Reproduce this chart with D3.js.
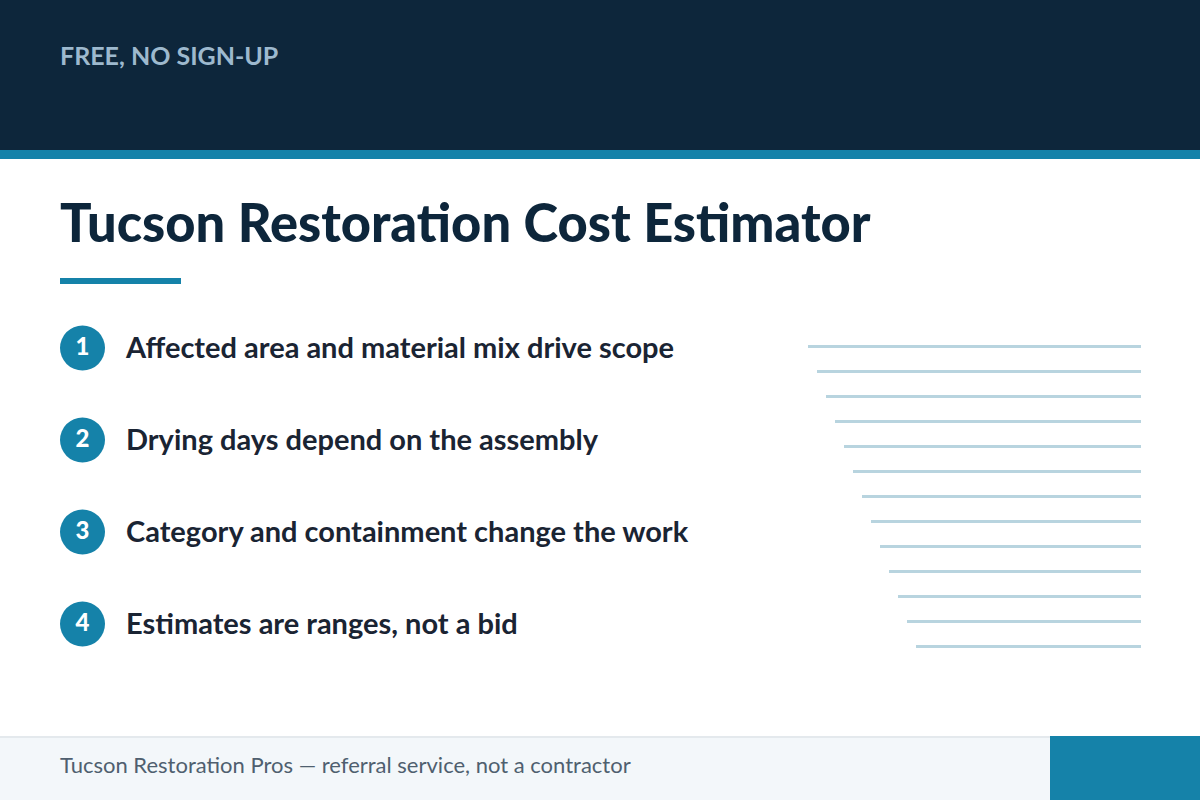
<!DOCTYPE html>
<html>
  <head>
    <meta charset="utf-8" />
    <title>Tucson Restoration Cost Estimator</title>
    <script src="https://d3js.org/d3.v7.min.js"></script>
    <style>
      body { margin: 0; background: #fff; }
      svg { display: block; }
      text { font-family: Lato, sans-serif; }
    </style>
  </head>
  <body>
    <svg id="card"></svg>

    <script>
      var eyebrow = "FREE, NO SIGN-UP";
      var title = "Tucson Restoration Cost Estimator";
      var footer = "Tucson Restoration Pros \u2014 referral service, not a contractor";

      var stepNumbers = ["1", "2", "3", "4"];
      var stepLabels = [
        "Affected area and material mix drive scope",
        "Drying days depend on the assembly",
        "Category and containment change the work",
        "Estimates are ranges, not a bid"
      ];

      // length of each decorative rule, top to bottom
      var ruleLengths = [333, 324, 315, 306, 297, 288, 279, 270, 261, 252, 243, 234, 225];

      var navy = "#0d263b";
      var teal = "#1582a9";
      var width = 1200;
      var height = 800;

      var svg = d3.select("#card")
        .attr("width", width)
        .attr("height", height);

      // header
      svg.append("rect").attr("width", width).attr("height", 150).attr("fill", navy);
      svg.append("rect").attr("y", 150).attr("width", width).attr("height", 9).attr("fill", teal);
      svg.append("text")
        .attr("x", 60).attr("y", 65)
        .attr("font-size", 25).attr("font-weight", 700)
        .attr("fill", "#9db9ce")
        .text(eyebrow);

      // title
      svg.append("text")
        .attr("x", 60).attr("y", 242)
        .attr("font-size", 52.4).attr("font-weight", 900)
        .attr("fill", navy)
        .text(title);
      svg.append("rect").attr("x", 60).attr("y", 278).attr("width", 121).attr("height", 6).attr("fill", teal);

      // numbered steps
      var stepY = d3.scalePoint().domain(stepNumbers).range([348, 624]);

      var steps = svg.selectAll(".step")
        .data(stepNumbers)
        .enter().append("g")
        .attr("class", "step")
        .attr("transform", function(d) { return "translate(0," + stepY(d) + ")"; });

      steps.append("circle")
        .attr("cx", 82.5).attr("r", 22.5)
        .attr("fill", teal);

      steps.append("text")
        .attr("x", 82.5).attr("y", 7)
        .attr("text-anchor", "middle")
        .attr("font-size", 24).attr("font-weight", 900)
        .attr("fill", "#fff")
        .text(function(d) { return d; });

      steps.append("text")
        .attr("x", 126).attr("y", 10)
        .attr("font-size", 29).attr("font-weight", 700)
        .attr("fill", "#1a2433")
        .text(function(d, i) { return stepLabels[i]; });

      // decorative rules
      var ruleY = d3.scalePoint()
        .domain(d3.range(ruleLengths.length))
        .range([346.5, 646.5]);
      var ruleX = d3.scaleLinear()
        .domain([0, d3.max(ruleLengths)])
        .range([1141, 808]);

      svg.selectAll(".rule")
        .data(ruleLengths)
        .enter().append("rect")
        .attr("class", "rule")
        .attr("x", function(d) { return ruleX(d); })
        .attr("y", function(d, i) { return ruleY(i) - 1.5; })
        .attr("width", function(d) { return 1141 - ruleX(d); })
        .attr("height", 3)
        .attr("fill", "#b8d4df");

      // footer
      svg.append("rect").attr("y", 736).attr("width", width).attr("height", 64).attr("fill", "#f3f7fa");
      svg.append("rect").attr("y", 736).attr("width", width).attr("height", 2).attr("fill", "#e4e9ed");
      svg.append("rect").attr("x", 1050).attr("y", 736).attr("width", 150).attr("height", 64).attr("fill", teal);
      svg.append("text")
        .attr("x", 60).attr("y", 773)
        .attr("font-size", 22)
        .attr("fill", "#4f5f6f")
        .text(footer);
    </script>
  </body>
</html>
